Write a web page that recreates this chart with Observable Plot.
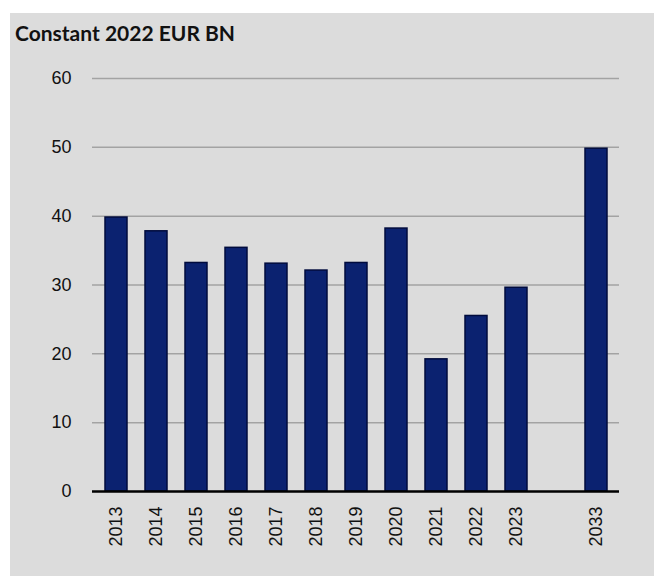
<!DOCTYPE html>
<html>
<head>
<meta charset="utf-8">
<script src="https://cdn.jsdelivr.net/npm/d3@7"></script>
<script src="https://cdn.jsdelivr.net/npm/@observablehq/plot@0.6"></script>
<style>
  html, body { margin: 0; padding: 0; background: #ffffff; }
  #wrap { position: absolute; left: 10px; top: 13px; width: 644px; height: 563px; background: #dcdcdc; }
  #title { position: absolute; left: 5px; top: 7px; font-family: Lato, "Open Sans", sans-serif; font-weight: 700; font-size: 21px; color: #111; white-space: nowrap; }
  #chart { position: absolute; left: 0; top: 40px; }
</style>
</head>
<body>
<div id="wrap">
  <div id="title">Constant 2022 EUR BN</div>
  <div id="chart"></div>
</div>
<script>
const titleText = "Constant 2022 EUR BN";
const years = ["2013", "2014", "2015", "2016", "2017", "2018", "2019", "2020", "2021", "2022", "2023", "2033"];
const values = [39.8, 37.8, 33.2, 35.4, 33.1, 32.1, 33.2, 38.2, 19.2, 25.5, 29.6, 49.8];
const xDomain = ["2013", "2014", "2015", "2016", "2017", "2018", "2019", "2020", "2021", "2022", "2023", " ", "2033"];
const yTicks = [0, 10, 20, 30, 40, 50, 60];
const gridTicks = [10, 20, 30, 40, 50, 60];

const data = years.map((y, i) => ({year: y, value: values[i]}));

const chart = Plot.plot({
  width: 644,
  height: 523,
  marginLeft: 82,
  marginRight: 35,
  marginTop: 25,
  marginBottom: 85,
  style: {background: "transparent", fontFamily: "'Liberation Sans', Arial, sans-serif", fontSize: "18px", color: "#111"},
  x: {domain: xDomain, paddingInner: 0.46, paddingOuter: 0.235, label: null},
  y: {domain: [0, 60], label: null},
  marks: [
    Plot.ruleY(gridTicks, {stroke: "#a3a3a3", strokeWidth: 1.5}),
    Plot.barY(data, {x: "year", y: "value", fill: "#0b2270", stroke: "#000b3d", strokeWidth: 1.5}),
    Plot.ruleY([0], {stroke: "#000", strokeWidth: 2.5}),
    Plot.axisY(yTicks, {tickSize: 0, tickPadding: 21, label: null, fontSize: 18}),
    Plot.axisX({tickSize: 0, tickPadding: 15, tickRotate: -90, label: null, fontSize: 18, tickFormat: d => d.trim()})
  ]
});
document.getElementById("chart").appendChild(chart);
</script>
</body>
</html>
